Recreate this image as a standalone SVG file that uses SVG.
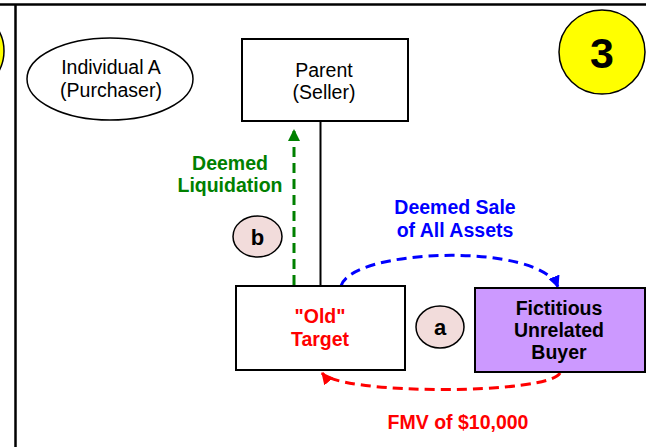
<svg xmlns="http://www.w3.org/2000/svg" width="646" height="447" viewBox="0 0 646 447">
<style>
  .reg{font-family:"Liberation Sans",Arial,sans-serif;font-size:19.5px;fill:#000;text-anchor:middle}
  .bold{font-family:"Liberation Sans",Arial,sans-serif;font-size:19.5px;font-weight:bold;text-anchor:middle}
  .box{fill:#fff;stroke:#000;stroke-width:2}
  .dash{fill:none;stroke-width:3;stroke-dasharray:10 6}
  .badge{fill:#f2dcdb;stroke:#000;stroke-width:1.5}
  .num{fill:#ffff00;stroke:#000;stroke-width:1.5}
</style>
<defs>
  <marker id="ahG" markerUnits="userSpaceOnUse" markerWidth="12" markerHeight="12" viewBox="0 0 12 12" refX="11" refY="6" orient="auto"><path d="M0,0 L12,6 L0,12 z" fill="#008000"/></marker>
  <marker id="ahB" markerUnits="userSpaceOnUse" markerWidth="12" markerHeight="12" viewBox="0 0 12 12" refX="11" refY="6" orient="auto"><path d="M0,0 L12,6 L0,12 z" fill="#0000ff"/></marker>
  <marker id="ahR" markerUnits="userSpaceOnUse" markerWidth="12" markerHeight="12" viewBox="0 0 12 12" refX="11" refY="6" orient="auto"><path d="M0,0 L12,6 L0,12 z" fill="#ff0000"/></marker>
</defs>
<rect width="646" height="447" fill="#fff"/>
<g id="frame">
  <line x1="0" y1="4.5" x2="646" y2="4.5" stroke="#000" stroke-width="2.5"/>
  <line x1="15.5" y1="4" x2="15.5" y2="447" stroke="#000" stroke-width="2.5"/>
  <ellipse cx="-39" cy="51" rx="43" ry="42" class="num"/>
</g>
<g id="connectors">
  <line x1="320.5" y1="121" x2="320.5" y2="286" stroke="#000" stroke-width="2"/>
  <line x1="294" y1="285" x2="294" y2="130" class="dash" stroke="#008000" marker-end="url(#ahG)"/>
  <path d="M341,286 C352,248 540,242 558,287" class="dash" stroke="#0000ff" marker-end="url(#ahB)"/>
  <path d="M560,373 C548,395 340,395 322,373" class="dash" stroke="#ff0000" marker-end="url(#ahR)"/>
</g>
<g id="individualA">
  <ellipse cx="110" cy="79" rx="83" ry="41" fill="#fff" stroke="#000" stroke-width="1.5"/>
  <text class="reg" x="111" y="74">Individual A</text>
  <text class="reg" x="111" y="97">(Purchaser)</text>
</g>
<g id="parent">
  <rect x="242" y="39" width="166" height="82" class="box"/>
  <text class="reg" x="324" y="77">Parent</text>
  <text class="reg" x="324" y="99">(Seller)</text>
</g>
<g id="step3">
  <ellipse cx="602" cy="52" rx="43" ry="42" class="num"/>
  <text x="602" y="68" font-family="Liberation Sans,Arial,sans-serif" font-size="43" font-weight="bold" text-anchor="middle">3</text>
</g>
<g id="oldTarget">
  <rect x="236" y="286" width="169" height="84" class="box"/>
  <text class="bold" x="320" y="323" fill="#ff0000">"Old"</text>
  <text class="bold" x="320" y="346" fill="#ff0000">Target</text>
</g>
<g id="buyer">
  <rect x="475" y="288" width="170" height="84" fill="#cc99ff" stroke="#000" stroke-width="2"/>
  <text class="bold" x="559" y="315" fill="#000">Fictitious</text>
  <text class="bold" x="559" y="337" fill="#000">Unrelated</text>
  <text class="bold" x="559" y="359" fill="#000">Buyer</text>
</g>
<g id="badgeA">
  <ellipse cx="440" cy="327" rx="24" ry="21" class="badge"/>
  <text class="bold" x="440" y="335" fill="#000" style="font-size:22px">a</text>
</g>
<g id="badgeB">
  <ellipse cx="257.5" cy="236.5" rx="24.5" ry="20.5" class="badge"/>
  <text class="bold" x="257.5" y="245" fill="#000" style="font-size:22px">b</text>
</g>
<g id="labels">
  <text class="bold" x="230" y="170" fill="#008000">Deemed</text>
  <text class="bold" x="230" y="192" fill="#008000">Liquidation</text>
  <text class="bold" x="455" y="214" fill="#0000ff">Deemed Sale</text>
  <text class="bold" x="455" y="237" fill="#0000ff">of All Assets</text>
  <text class="bold" x="458" y="429" fill="#ff0000">FMV of $10,000</text>
</g>
</svg>
